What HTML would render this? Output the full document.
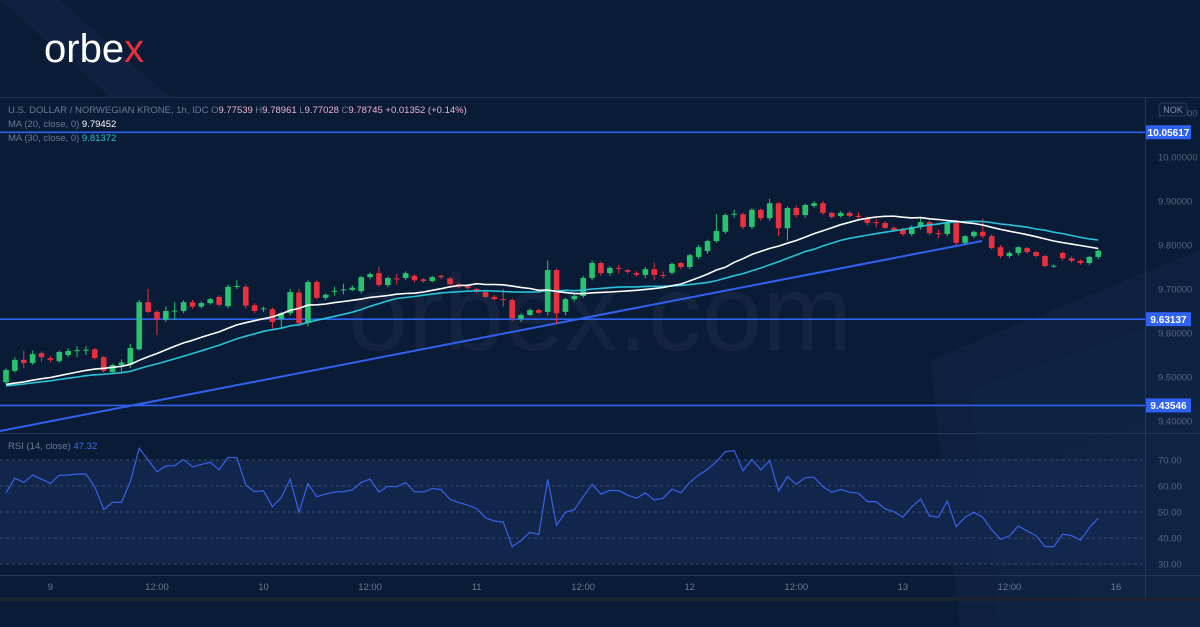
<!DOCTYPE html>
<html><head><meta charset="utf-8">
<style>
html,body{margin:0;padding:0;background:#0a1b36;}
body{width:1200px;height:627px;overflow:hidden;font-family:"Liberation Sans",sans-serif;}
svg{display:block}
</style></head>
<body>
<svg id="chart" width="1200" height="627" viewBox="0 0 1200 627" xmlns="http://www.w3.org/2000/svg">
  <rect x="0" y="0" width="1200" height="627" fill="#0a1b36"/>
  <g opacity="0.5">
    <polygon points="0,0 60,0 170,97 110,97" fill="#13284a"/>
    <polygon points="930,360 1200,250 1200,627 960,627" fill="#112546"/>
    <polygon points="970,390 1200,310 1200,627 1000,627" fill="#132a4d"/>
    <polygon points="1060,450 1200,400 1200,627 1080,627" fill="#142c50"/>
  </g>
  <text x="44" y="62" font-size="40" fill="#ffffff" font-family="Liberation Sans, sans-serif">orbe<tspan fill="#e8303f">x</tspan></text>
  <line x1="0" y1="97.5" x2="1200" y2="97.5" stroke="#1f3150" stroke-width="1"/>
  <rect x="0" y="460" width="1145" height="104" fill="#14284f" opacity="0.85"/>
  <text x="600" y="350" text-anchor="middle" font-size="108" fill="#ffffff" opacity="0.04">orbex.com</text>
  <line x1="1145.5" y1="97" x2="1145.5" y2="598" stroke="#23375a"/>
  <line x1="0" y1="433.5" x2="1200" y2="433.5" stroke="#23375a"/>
  <line x1="0" y1="575.5" x2="1200" y2="575.5" stroke="#23375a"/>
  <rect x="0" y="597" width="1200" height="4" fill="#1b2230"/>
  <g id="grid"></g>
  <g id="hlines"></g>
  <g id="candles"></g>
  <g id="mas"></g>
  <g id="rsi"></g>
  <g id="axes"></g>
  <text x="8" y="113" font-size="9.5" fill="#6b7a93">U.S. DOLLAR / NORWEGIAN KRONE, 1h, IDC  O<tspan fill="#f0b4cf">9.77539</tspan>  H<tspan fill="#f0b4cf">9.78961</tspan>  L<tspan fill="#f0b4cf">9.77028</tspan>  C<tspan fill="#f0b4cf">9.78745</tspan>  <tspan fill="#f0b4cf">+0.01352 (+0.14%)</tspan></text>
  <text x="8" y="127" font-size="9.5" fill="#6b7a93">MA (20, close, 0)  <tspan fill="#ffffff">9.79452</tspan></text>
  <text x="8" y="141" font-size="9.5" fill="#6b7a93">MA (30, close, 0)  <tspan fill="#27c3d8">9.81372</tspan></text>
  <text x="8" y="449" font-size="9.5" fill="#6b7a93">RSI (14, close)  <tspan fill="#3b6ff0">47.32</tspan></text>
  <g id="axes-top"></g>
</svg>
<script>
const priceTicks=[10.0,9.9,9.8,9.7,9.6,9.5,9.4];
const rsiTicks=[70,60,50,40,30];
const timeLabels=["9","12:00","10","12:00","11","12:00","12","12:00","13","12:00","16"];
const timeIdx=[5,17,29,41,53,65,77,89,101,113,125];
const levels=[10.05617,9.63137,9.43546];
const opens=[9.488,9.514,9.539,9.532,9.554,9.543,9.536,9.55,9.561,9.561,9.563,9.545,9.511,9.527,9.528,9.563,9.67,9.648,9.63,9.65,9.65,9.67,9.66,9.668,9.682,9.661,9.706,9.705,9.663,9.655,9.654,9.632,9.645,9.692,9.623,9.716,9.68,9.695,9.698,9.698,9.695,9.727,9.736,9.709,9.724,9.725,9.73,9.722,9.718,9.73,9.724,9.711,9.706,9.70,9.693,9.682,9.677,9.675,9.632,9.641,9.652,9.648,9.743,9.648,9.677,9.684,9.725,9.759,9.736,9.748,9.743,9.736,9.732,9.745,9.732,9.737,9.759,9.75,9.773,9.786,9.809,9.83,9.87,9.87,9.841,9.88,9.861,9.895,9.838,9.884,9.868,9.889,9.895,9.873,9.866,9.873,9.866,9.861,9.852,9.85,9.839,9.836,9.825,9.841,9.852,9.827,9.825,9.852,9.805,9.82,9.83,9.82,9.795,9.775,9.782,9.793,9.784,9.775,9.752,9.782,9.77,9.764,9.759,9.773];
const closes=[9.516,9.539,9.532,9.552,9.545,9.539,9.557,9.559,9.561,9.562,9.543,9.514,9.527,9.533,9.566,9.670,9.648,9.631,9.65,9.651,9.67,9.66,9.668,9.677,9.664,9.705,9.707,9.662,9.65,9.656,9.625,9.645,9.693,9.622,9.716,9.68,9.687,9.696,9.699,9.703,9.727,9.734,9.709,9.725,9.723,9.736,9.72,9.718,9.727,9.727,9.711,9.705,9.702,9.695,9.682,9.677,9.676,9.634,9.641,9.652,9.646,9.743,9.645,9.677,9.684,9.725,9.759,9.736,9.748,9.747,9.739,9.732,9.745,9.732,9.731,9.757,9.75,9.777,9.795,9.809,9.832,9.868,9.871,9.841,9.88,9.861,9.895,9.838,9.884,9.868,9.891,9.895,9.873,9.864,9.873,9.866,9.865,9.85,9.851,9.839,9.834,9.825,9.841,9.852,9.827,9.826,9.852,9.805,9.82,9.83,9.82,9.793,9.775,9.782,9.795,9.784,9.775,9.752,9.753,9.77,9.764,9.759,9.773,9.787];
const highs=[9.52,9.545,9.56,9.56,9.558,9.548,9.56,9.565,9.57,9.57,9.566,9.548,9.53,9.54,9.575,9.675,9.70,9.652,9.66,9.67,9.675,9.675,9.672,9.68,9.686,9.71,9.72,9.71,9.668,9.66,9.658,9.648,9.70,9.70,9.72,9.72,9.69,9.705,9.712,9.708,9.73,9.738,9.75,9.728,9.735,9.74,9.733,9.725,9.73,9.732,9.728,9.713,9.71,9.702,9.696,9.686,9.70,9.678,9.645,9.656,9.655,9.765,9.747,9.68,9.69,9.73,9.765,9.762,9.752,9.755,9.745,9.74,9.75,9.76,9.74,9.76,9.762,9.78,9.80,9.812,9.87,9.872,9.88,9.874,9.884,9.883,9.905,9.898,9.888,9.89,9.894,9.90,9.90,9.876,9.877,9.878,9.874,9.864,9.86,9.854,9.842,9.84,9.845,9.862,9.856,9.835,9.855,9.856,9.823,9.833,9.86,9.824,9.80,9.786,9.797,9.796,9.786,9.778,9.756,9.785,9.774,9.767,9.775,9.79];
const lows=[9.485,9.51,9.52,9.528,9.535,9.533,9.533,9.545,9.545,9.55,9.54,9.51,9.51,9.51,9.52,9.56,9.645,9.595,9.625,9.63,9.645,9.655,9.656,9.664,9.66,9.656,9.70,9.655,9.645,9.648,9.61,9.61,9.64,9.618,9.615,9.676,9.675,9.685,9.688,9.695,9.69,9.722,9.705,9.704,9.71,9.72,9.715,9.714,9.715,9.722,9.708,9.702,9.698,9.69,9.68,9.674,9.66,9.627,9.625,9.638,9.642,9.64,9.62,9.64,9.672,9.68,9.72,9.73,9.73,9.735,9.735,9.728,9.725,9.72,9.725,9.733,9.745,9.745,9.768,9.78,9.805,9.825,9.862,9.836,9.836,9.855,9.855,9.82,9.81,9.862,9.862,9.885,9.868,9.86,9.862,9.862,9.86,9.845,9.84,9.836,9.83,9.82,9.82,9.835,9.822,9.815,9.82,9.80,9.80,9.816,9.815,9.79,9.77,9.77,9.776,9.78,9.772,9.75,9.748,9.765,9.76,9.755,9.755,9.768];
const priorCloses=[9.470,9.468,9.472,9.475,9.471,9.469,9.473,9.478,9.474,9.476,9.480,9.477,9.475,9.479,9.482,9.478,9.476,9.480,9.484,9.481,9.479,9.483,9.486,9.482,9.480,9.484,9.487,9.485,9.490];
const rsiValues=[57.4,63.0,61.4,64.2,62.6,61.0,64.1,64.2,64.6,64.6,59.7,51.0,53.7,53.7,61.7,74.5,70.0,65.5,67.7,67.8,70.2,67.4,68.3,69.1,66.2,71.0,70.9,60.4,57.8,58.2,52.0,55.6,62.6,49.9,61.0,55.9,56.9,57.7,57.8,58.5,61.4,62.6,57.7,59.9,59.7,61.3,57.8,57.7,59.0,58.6,54.9,53.6,52.6,51.3,47.8,46.5,46.2,36.7,39.0,42.2,41.3,62.6,44.9,49.9,50.9,55.9,
60.6,56.9,58.3,58.2,56.5,55.3,57.4,54.6,55.3,58.8,57.4,61.4,64.2,66.4,69.4,73.2,73.6,65.9,70.2,66.2,69.7,58.1,63.6,60.6,63.2,63.4,59.7,57.6,58.7,57.6,57.2,54.0,54.0,51.2,50.1,48.0,52.0,55.0,48.5,48.0,54.2,44.3,48.0,49.9,48.0,43.1,39.5,40.8,44.6,42.7,40.9,36.7,36.7,41.5,40.9,39.2,44.0,47.6];

const NS="http://www.w3.org/2000/svg";
function mk(tag,attrs,parent){const e=document.createElementNS(NS,tag);for(const k in attrs)e.setAttribute(k,attrs[k]);parent.appendChild(e);return e;}
const xOf=i=>6+i*8.88;
const yP=p=>157+(10-p)*440;
const yR=v=>564-(v-30)*2.6;

const grid=document.getElementById('grid');
const axes=document.getElementById('axes');
const axesTop=document.getElementById('axes-top');
priceTicks.forEach(p=>{
  const t=mk('text',{x:1158,y:yP(p)+3.5,'font-size':9.5,fill:'#56657e'},axes);
  t.textContent=p.toFixed(5);
  
  
});
const tTop=mk('text',{x:1158,y:yP(10.1)+3.5,'font-size':9.5,fill:'#56657e'},axes);
tTop.textContent='10.10000';


rsiTicks.forEach(v=>{
  const l=mk('line',{x1:0,x2:1145,y1:yR(v),y2:yR(v),stroke:'#3a4b6a','stroke-dasharray':'3,3','stroke-width':1},grid);
  
  
  const t=mk('text',{x:1158,y:yR(v)+3.5,'font-size':9.5,fill:'#56657e'},axes);
  t.textContent=v.toFixed(2);
  
  
});
timeLabels.forEach((s,k)=>{
  const t=mk('text',{x:xOf(timeIdx[k]),y:590,'font-size':9.5,fill:'#6b7a93','text-anchor':'middle'},axes);
  t.textContent=s;
  
  
});
const badge=mk('rect',{x:1159,y:103,width:28,height:13,rx:3,fill:'#0d1f3c',stroke:'#2a3a58'},axesTop);


const bt=mk('text',{x:1173,y:113,'font-size':9,fill:'#8090a8','text-anchor':'middle'},axesTop);
bt.textContent='NOK';



const hl=document.getElementById('hlines');
levels.forEach(p=>{
  const y=yP(p);
  const l=mk('line',{x1:0,x2:1145,y1:y,y2:y,stroke:'#2f62f0','stroke-width':1.6},hl);
  
  
  const r=mk('rect',{x:1146,y:y-7,width:45,height:14,fill:'#2f62f0'},axes);
  
  
  const t=mk('text',{x:1168.5,y:y+3.8,'font-size':10,'font-weight':'bold',fill:'#ffffff','text-anchor':'middle'},axes);
  t.textContent=p.toFixed(5);
  
  
});
const tl=mk('line',{x1:0,y1:431,x2:982,y2:241,stroke:'#2f62f0','stroke-width':2},hl);



const cg=document.getElementById('candles');
closes.forEach((c,i)=>{
  const o=opens[i],up=c>=o,col=up?'#26c46f':'#e8303f',x=xOf(i);
  const w=mk('line',{x1:x,x2:x,y1:yP(highs[i]),y2:yP(lows[i]),stroke:col,'stroke-width':1},cg);
  
  
  const yt=yP(Math.max(o,c)),yb=yP(Math.min(o,c));
  const b=mk('rect',{x:x-2.8,y:yt,width:5.6,height:Math.max(1,yb-yt),fill:col},cg);
  
  
});

const all=priorCloses.concat(closes);
function ma(n){const out=[];for(let i=0;i<closes.length;i++){const j=i+priorCloses.length;let s=0;for(let k=j-n+1;k<=j;k++)s+=all[k];out.push(s/n);}return out;}
const mg=document.getElementById('mas');
[[30,'#27c3d8','ma30-line'],[20,'#ffffff','ma20-line']].forEach(([n,col,name])=>{
  const v=ma(n);
  const pl=mk('polyline',{points:v.map((p,i)=>xOf(i).toFixed(1)+','+yP(p).toFixed(1)).join(' '),fill:'none',stroke:col,'stroke-width':1.6},mg);
  
  
});

const rg=document.getElementById('rsi');
const rl=mk('polyline',{points:rsiValues.map((v,i)=>xOf(i).toFixed(1)+','+yR(v).toFixed(1)).join(' '),fill:'none',stroke:'#3563e8','stroke-width':1.2},rg);


</script>
</body></html>
